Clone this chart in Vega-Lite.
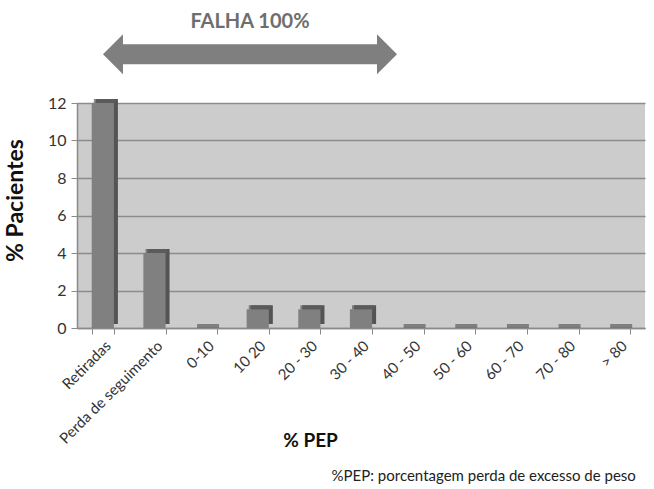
{
  "$schema": "https://vega.github.io/schema/vega-lite/v6.json",
  "autosize": "none",
  "width": 568,
  "height": 225,
  "padding": {"left": 77, "top": 103, "right": 9, "bottom": 161},
  "background": "white",
  "config": {
    "view": {"fill": "#cccccc", "stroke": null},
    "font": "Lato"
  },
  "datasets": {
    "bars": [
      {"cat": "Retiradas", "v": 12},
      {"cat": "Perda de seguimento", "v": 4},
      {"cat": "0-10", "v": 0},
      {"cat": "10 20", "v": 1},
      {"cat": "20 - 30", "v": 1},
      {"cat": "30 - 40", "v": 1},
      {"cat": "40 - 50", "v": 0},
      {"cat": "50 - 60", "v": 0},
      {"cat": "60 - 70", "v": 0},
      {"cat": "70 - 80", "v": 0},
      {"cat": "> 80", "v": 0}
    ],
    "arrow": [{"x": 3.35, "y": 14.6}],
    "label": [{"x": 3.35, "y": 16.3, "t": "FALHA 100%"}],
    "note": [{"x": 4.93, "y": -7.9, "t": "%PEP: porcentagem perda de excesso de peso"}]
  },
  "resolve": {"scale": {"x": "independent"}, "axis": {"x": "independent", "y": "independent"}},
  "layer": [
    {
      "data": {"name": "bars"},
      "encoding": {
        "x": {
          "field": "cat", "type": "nominal", "sort": null,
          "scale": {"paddingInner": 0.57, "paddingOuter": 0.285},
          "axis": {
            "title": "% PEP", "titleFont": "Lato", "titleFontSize": 19, "titleFontWeight": "bold", "titleColor": "#111",
            "titleX": 233, "titleY": 112, "titleBaseline": "middle",
            "labelAngle": -45, "labelFontSize": 15, "labelColor": "#333", "labelPadding": 4,
            "tickBand": "extent", "tickColor": "#8a8a8a", "tickSize": 6, "domainColor": "#8a8a8a", "domainWidth": 1.5,
            "grid": false
          }
        },
        "y": {
          "field": "v", "type": "quantitative",
          "scale": {"domain": [0, 12]},
          "axis": {
            "title": "% Pacientes", "titleFontSize": 23, "titleFontWeight": "bold", "titleColor": "#111",
            "titleX": -50, "titleY": 97, "titleAngle": -90, "titleAlign": "center", "titleBaseline": "bottom",
            "values": [0, 2, 4, 6, 8, 10, 12], "labelOverlap": false,
            "labelFontSize": 16, "labelColor": "#333", "labelPadding": 5,
            "tickColor": "#8a8a8a", "tickSize": 6, "domainColor": "#8a8a8a", "domainWidth": 1.5,
            "grid": true, "gridColor": "#8c8c8c", "gridWidth": 1.5
          }
        }
      },
      "layer": [
        {"mark": {"type": "bar", "color": "#545454", "xOffset": 4, "yOffset": -4}},
        {"mark": {"type": "bar", "color": "#808080"}},
        {"mark": {"type": "tick", "color": "#5e5e5e", "thickness": 4, "size": 22, "xOffset": 2, "yOffset": -2}}
      ]
    },
    {
      "data": {"name": "arrow"},
      "mark": {
        "type": "point", "filled": true, "color": "#7f7f7f", "opacity": 1, "size": 86436,
        "shape": "M-1,0L-0.864,-0.136L-0.864,-0.068L0.864,-0.068L0.864,-0.136L1,0L0.864,0.136L0.864,0.068L-0.864,0.068L-0.864,0.136Z"
      },
      "encoding": {
        "x": {"field": "x", "type": "quantitative", "scale": {"domain": [0, 11]}, "axis": null},
        "y": {"field": "y", "type": "quantitative", "scale": {"domain": [0, 12]}, "axis": null}
      }
    },
    {
      "data": {"name": "label"},
      "mark": {"type": "text", "fontSize": 20, "fontWeight": "bold", "color": "#6e6e6e", "align": "center", "baseline": "middle"},
      "encoding": {
        "x": {"field": "x", "type": "quantitative", "scale": {"domain": [0, 11]}, "axis": null},
        "y": {"field": "y", "type": "quantitative", "scale": {"domain": [0, 12]}, "axis": null},
        "text": {"field": "t"}
      }
    },
    {
      "data": {"name": "note"},
      "mark": {"type": "text", "fontSize": 15, "color": "#222", "align": "left", "baseline": "middle"},
      "encoding": {
        "x": {"field": "x", "type": "quantitative", "scale": {"domain": [0, 11]}, "axis": null},
        "y": {"field": "y", "type": "quantitative", "scale": {"domain": [0, 12]}, "axis": null},
        "text": {"field": "t"}
      }
    }
  ]
}
